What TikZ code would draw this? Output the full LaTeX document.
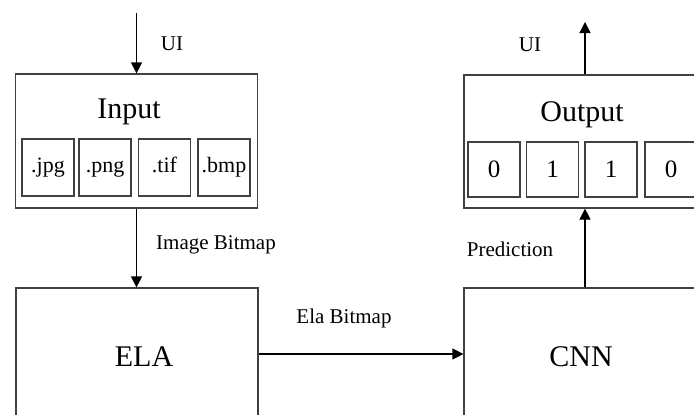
\documentclass[tikz,border=0pt]{standalone}
\usepackage{fontspec}
\setmainfont{Liberation Serif}
\usetikzlibrary{arrows.meta}
\begin{document}
\begin{tikzpicture}[x=0.5pt,y=-0.5pt,
  box/.style={draw=black!75,line width=0.6pt,inner sep=0pt,fill=white},
  bigbox/.style={box,minimum width=121pt,minimum height=67pt},
  cell/.style={box,minimum width=26pt,minimum height=28.5pt,text height=7.5pt,text depth=2.5pt,font=\fontsize{11}{13}\selectfont},
  bitcell/.style={box,minimum width=26pt,minimum height=27.5pt,font=\fontsize{12.5}{15}\selectfont},
  title/.style={inner sep=0pt,font=\fontsize{15}{18}\selectfont},
  lbl/.style={inner sep=0pt,font=\fontsize{10.5}{12}\selectfont},
  flow/.style={draw=black,line width=0.6pt,-{Triangle[length=5.5pt,width=5.5pt]}}]
\useasboundingbox (0,0) rectangle (694,414);
\clip (0,0) rectangle (694,414);

% input block with the accepted file types
\node[bigbox] (in) at (136.5,141) {};
\node[title] (intitle) at (129,112) {Input};
\node[cell] (jpg) at (48,167.5) {.jpg};
\node[cell] (png) at (105,167.5) {.png};
\node[cell] (tif) at (164.5,167.5) {.tif};
\node[cell] (bmp) at (224,167.5) {.bmp};

% output block with the predicted bits
\node[bigbox,minimum height=66.5pt] (out) at (585,141.5) {};
\node[title] (outtitle) at (582,115) {Output};
\node[bitcell] (b0) at (494,169.5) {0};
\node[bitcell] (b1) at (552.5,169.5) {1};
\node[bitcell] (b2) at (611,169.5) {1};
\node[bitcell] (b3) at (671,169.5) {0};

% processing stages
\node[bigbox,minimum height=69pt] (ela) at (137,357) {};
\node[title] (elatext) at (144,357) {ELA};
\node[bigbox,minimum height=69pt] (cnn) at (585,357) {};
\node[title] (cnntext) at (581,357) {CNN};

% connectors
\coordinate (uiin) at (136.5,13);
\coordinate (uiout) at (585,22);
\draw[flow] (uiin) -- (in.north);
\draw[flow] (in.south) -- (in.south |- ela.north);
\draw[flow] ([yshift=1.5pt]ela.east) -- ([yshift=1.5pt]cnn.west);
\draw[flow] (cnn.north) -- (cnn.north |- out.south);
\draw[flow] (out.north) -- (uiout);

% connector labels
\node[lbl] (l1) at (172,44) {UI};
\node[lbl] (l2) at (216,245) {Image Bitmap};
\node[lbl] (l3) at (344,318) {Ela Bitmap};
\node[lbl] (l4) at (510,249) {Prediction};
\node[lbl] (l5) at (530,45) {UI};
\end{tikzpicture}
\end{document}
